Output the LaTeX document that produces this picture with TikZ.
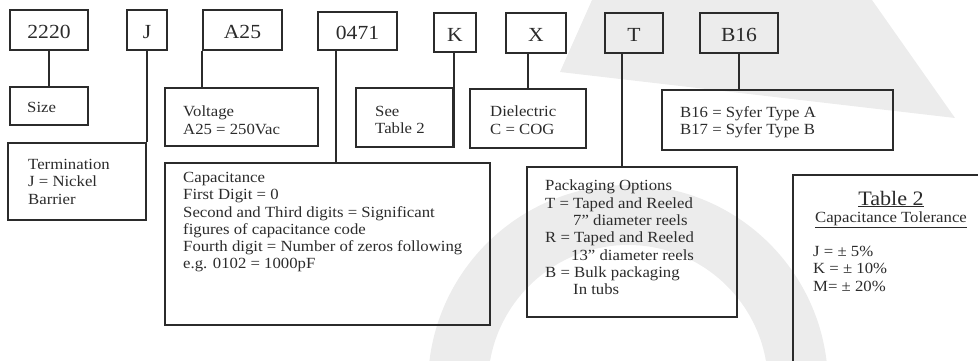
\documentclass[tikz,border=0pt]{standalone}
\usepackage{fontspec}
\setmainfont{Liberation Serif}[FakeStretch=1.08]
\usetikzlibrary{fit,calc}
\definecolor{ink}{HTML}{2B2B2B}
\definecolor{wmark}{HTML}{ECECEC}
\begin{document}
\begin{tikzpicture}[x=1pt,y=-1pt,
  cbox/.style={draw=ink, line width=1.7pt, inner sep=0pt},
  clabel/.style={text=ink, font=\fontsize{20}{22}\selectfont, inner sep=0pt, anchor=center},
  txt/.style={font=\fontsize{15.5}{17.3}\selectfont, text=ink, align=left, anchor=north west, inner sep=0pt},
  link/.style={draw=ink, line width=1.7pt},
  wm/.style={fill=wmark}]
\useasboundingbox (0,0) rectangle (978,361);
% watermark
\fill[wm] (592,0) -- (872,0) -- (955,118) -- (560,72) -- cycle;
\fill[wm, even odd rule] (628,385) circle[radius=200pt] (628,385) circle[radius=140pt];
% code boxes
\node[cbox, fit={(10,10) (88,50)}] (c2220) {};
\node[cbox, fit={(127,10) (167,50)}] (cJ) {};
\node[cbox, fit={(203,10) (282,50)}] (cA25) {};
\node[cbox, fit={(318,12) (397,50)}] (c0471) {};
\node[cbox, fit={(434,13) (476,52)}] (cK) {};
\node[cbox, fit={(506,13) (566,53)}] (cX) {};
\node[cbox, fit={(605,13) (663,53)}] (cT) {};
\node[cbox, fit={(700,13) (778,53)}] (cB16) {};
\node[clabel] (l2220) at ($(c2220.center)+(0,2)$) {2220};
\node[clabel] (lJ) at ($(cJ.center)+(0,2)$) {J};
\node[clabel] (lA25) at ($(cA25.center)+(0,2)$) {A25};
\node[clabel] (l0471t) at ($(c0471.center)+(0,2)$) {0471};
\node[clabel] (lK) at ($(cK.center)+(0,2)$) {K};
\node[clabel] (lX) at ($(cX.center)+(0,2)$) {X};
\node[clabel] (lTt) at ($(cT.center)+(0,2)$) {T};
\node[clabel] (lB16) at ($(cB16.center)+(0,2)$) {B16};
% description boxes
\node[cbox, fit={(10,87) (88,125)}] (size) {};
\node[cbox, fit={(8,143) (146,220)}] (term) {};
\node[cbox, fit={(165,88) (318,146)}] (volt) {};
\node[cbox, fit={(356,88) (453,147)}] (see) {};
\node[cbox, fit={(470,89) (586,148)}] (diel) {};
\node[cbox, fit={(662,90) (893,150)}] (syfer) {};
\node[cbox, fit={(165,163) (490,325)}] (cap) {};
\node[cbox, fit={(527,167) (737,317)}] (pack) {};
\node[cbox, fit={(793,175) (1000,400)}] (tab) {};
% connectors
\draw[link] (c2220) -- (size);
\draw[link] (cJ.south -| term.north east) -- (term.north east);
\draw[link] (cA25.south west) -- (cA25.south west |- volt.north);
\coordinate (l0471) at ($(c0471.south west)+(19,0)$);
\draw[link] (l0471) -- (l0471 |- cap.north);
\draw[link] (see.south east |- cK.south) -- (see.south east);
\draw[link] (diel.north |- cX.south) -- (diel.north);
\coordinate (lT) at ($(cT.south west)+(18,0)$);
\draw[link] (lT) -- (lT |- pack.north);
\draw[link] (cB16.south) -- (cB16.south |- syfer.north);
% texts
\node[txt] (tsize) at (27,102) {Size};
\node[txt] (tterm) at (28,159) {Termination\\J = Nickel\\Barrier};
\node[txt] (tvolt) at (183,106) {Voltage\\A25 = 250Vac};
\node[txt] (tsee) at (375,106) {See\\Table 2};
\node[txt] (tdiel) at (490,106) {Dielectric\\C = COG};
\node[txt] (tsyfer) at (680,106) {B16 = Syfer Type A\\B17 = Syfer Type B};
\node[txt] (tcap) at (183,172) {Capacitance\\First Digit = 0\\Second and Third digits = Significant\\figures of capacitance code\\Fourth digit = Number of zeros following\\e.g. 0102 = 1000pF};
\node[txt] (tpack) at (545,180) {Packaging Options\\T = Taped and Reeled\\\hspace*{28pt}7” diameter reels\\R = Taped and Reeled\\\hspace*{26pt}13” diameter reels\\B = Bulk packaging\\\hspace*{28pt}In tubs};
\node[font=\fontsize{20.5}{22}\selectfont, text=ink, anchor=base, inner sep=0pt] (ttitle) at (891,205) {\underline{Table 2}};
\node[font=\fontsize{15.5}{17.3}\selectfont, text=ink, anchor=base, inner sep=0pt] (tsub) at (891,222) {\underline{Capacitance Tolerance}};
\node[txt] (ttol) at (813,246) {J = ± 5\%\\K = ± 10\%\\M= ± 20\%};
\end{tikzpicture}
\end{document}
